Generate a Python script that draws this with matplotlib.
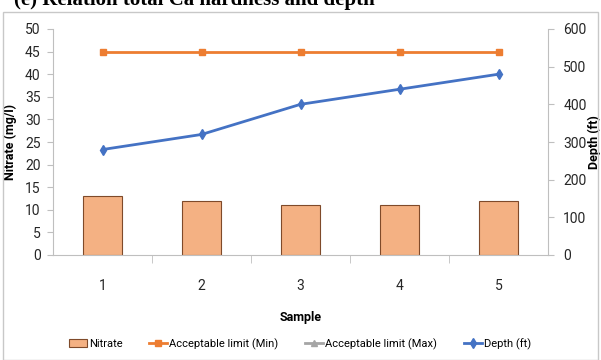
import numpy as np
import matplotlib
matplotlib.use("Agg")
import matplotlib.pyplot as plt
from matplotlib.patches import Rectangle

samples = [1, 2, 3, 4, 5]
nitrate = [13, 12, 11, 11, 12]
limit_min = [45, 45, 45, 45, 45]
limit_max = [np.nan] * 5
depth = [280, 320, 400, 440, 480]

plt.rcParams["font.family"] = ["Roboto", "DejaVu Sans"]

W, H = 601, 360
fig = plt.figure(figsize=(W / 100, H / 100), dpi=100)

# outer chart border
fig.patches.append(Rectangle((3 / W, 0), 595 / W, 1 - 12 / H, transform=fig.transFigure,
                             fill=False, edgecolor="#c8c8c8", linewidth=1.0))

# title, mostly cropped by the top edge
fig.text(14 / W, 1 - 4.5 / H, "(e) Relation total Ca hardness and depth", fontsize=15,
         fontweight="bold", family=["Liberation Serif", "DejaVu Serif"], va="baseline", ha="left")

ax = fig.add_axes([53 / W, 1 - 255 / H, 495 / W, 226 / H])
ax2 = ax.twinx()

x = np.array(samples)
ax.bar(x, nitrate, width=0.4, color="#F4B183", edgecolor="#7f4a2a", linewidth=0.8,
       label="Nitrate", zorder=2)
ax.plot(x, limit_min, color="#ED7D31", marker="s", markersize=5, linewidth=2,
        label="Acceptable limit (Min)", zorder=3)
ax.plot(x, limit_max, color="#A5A5A5", marker="^", markersize=5, linewidth=2,
        label="Acceptable limit (Max)", zorder=3)
ax2.plot(x, depth, color="#4472C4", marker="d", markersize=5, linewidth=2,
         label="Depth (ft)", zorder=3)

ax.set_xlim(0.5, 5.5)
ax.set_ylim(0, 50)
ax2.set_ylim(0, 600)
ax.set_yticks(np.arange(0, 51, 5))
ax2.set_yticks(np.arange(0, 601, 100))
ax.set_xticks(x)
ax.set_xticks(np.arange(1.5, 5.5, 1), minor=True)

for a in (ax, ax2):
    for s in a.spines.values():
        s.set_color("#bfbfbf")
    a.spines["top"].set_visible(False)
ax.spines["right"].set_visible(False)
ax2.spines["left"].set_visible(False)
ax2.spines["bottom"].set_visible(False)

ax.tick_params(axis="y", length=4, color="#bfbfbf", labelsize=10, pad=5, labelcolor="#262626")
ax2.tick_params(axis="y", length=4, color="#bfbfbf", labelsize=10, pad=7, labelcolor="#262626")
ax.tick_params(axis="x", which="major", length=0, labelsize=10, pad=17, labelcolor="#262626")
ax.tick_params(axis="x", which="minor", length=6, color="#bfbfbf")

ax.set_xlabel("Sample", fontsize=9, fontweight="bold", labelpad=13)
ax.set_ylabel("Nitrate (mg/l)", fontsize=9, fontweight="bold")
ax2.set_ylabel("Depth (ft)", fontsize=9, fontweight="bold")
ax.yaxis.set_label_coords((17 - 53) / 495, 0.5)
ax2.yaxis.set_label_coords((588 - 53) / 495, 0.5)

h1, l1 = ax.get_legend_handles_labels()
h2, l2 = ax2.get_legend_handles_labels()
handles = [h1[l1.index("Nitrate")], h1[l1.index("Acceptable limit (Min)")],
           h1[l1.index("Acceptable limit (Max)")], h2[0]]
labels = ["Nitrate", "Acceptable limit (Min)", "Acceptable limit (Max)", "Depth (ft)"]
fig.legend(handles, labels, loc="center", bbox_to_anchor=(300 / W, 1 - 344 / H), ncol=4,
           frameon=False, fontsize=8, handlelength=1.6, handletextpad=0.2, columnspacing=2.4)

fig.savefig("out.png", dpi=100)
